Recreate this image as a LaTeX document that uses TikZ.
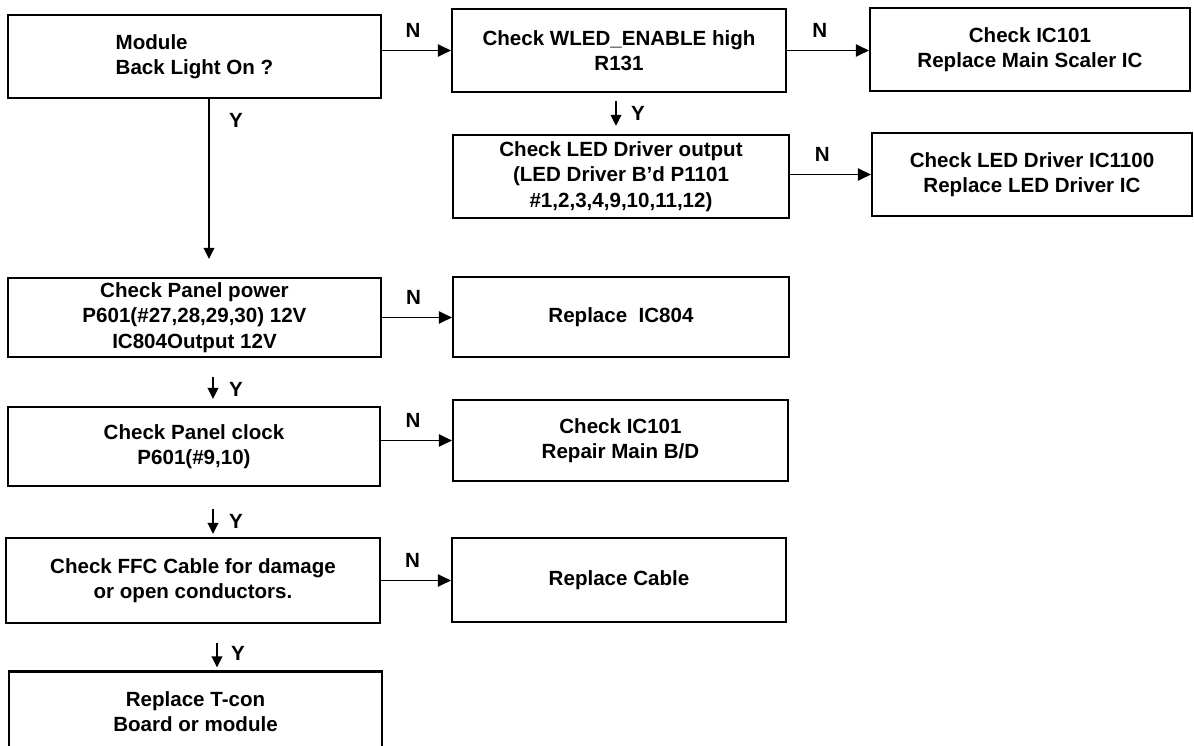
\documentclass[tikz,border=0pt]{standalone}
\usepackage{fontspec}
\setmainfont{Liberation Sans}
\usetikzlibrary{arrows.meta,positioning}

\begin{document}
\begin{tikzpicture}[
  x=0.02cm, y=-0.02cm,
  block/.style={rectangle, draw=black, line width=1.2pt, fill=white, minimum width=6.7cm, minimum height=1.64cm, align=center, inner sep=2pt, font=\fontsize{11.7}{14.4}\selectfont\bfseries},
  arrow/.style={-{Triangle[length=2.6mm, width=2.4mm]}, line width=1.1pt},
  yesarrow/.style={arrow, -{Triangle[length=2.2mm, width=2.1mm]}},
  lbl/.style={font=\fontsize{11.7}{14.4}\selectfont\bfseries, inner sep=1pt}
]
\clip (0,0) rectangle (1194,746);

% left column
\node[block, align=left, minimum width=7.46cm, minimum height=1.66cm] (module) at (194.5,56.5) {Module\\Back Light On ?};
\node[block, minimum width=7.46cm, minimum height=1.58cm] (power) at (194.5,317.5) {Check Panel power\\P601(\#27,28,29,30) 12V\\IC804Output 12V};
\node[block, minimum width=7.44cm, minimum height=1.58cm] (clock) at (194,446.5) {Check Panel clock\\P601(\#9,10)};
\node[block, minimum width=7.48cm, minimum height=1.7cm] (ffc) at (193,580.5) {Check FFC Cable for damage\\or open conductors.};
\node[block, minimum width=7.46cm, minimum height=1.62cm] (tcon) at (195.5,712) {Replace T-con\\Board or module};

% middle column
\node[block, minimum width=6.68cm, minimum height=1.66cm] (wled) at (619,50.5) {Check WLED\_ENABLE high\\R131};
\node[block, minimum width=6.72cm, minimum height=1.66cm] (ledout) at (621,176.5) {Check LED Driver output\\(LED Driver B’d P1101\\\#1,2,3,4,9,10,11,12)};
\node[block, minimum width=6.72cm, minimum height=1.6cm] (ic804) at (621,317) {Replace\ \ IC804};
\node[block, minimum width=6.7cm, minimum height=1.62cm] (repair) at (620.5,440.5) {Check IC101\\Repair Main B/D};
\node[block, minimum width=6.68cm, minimum height=1.68cm] (cable) at (619,580) {Replace Cable};

% right column
\node[block, minimum width=6.4cm, minimum height=1.66cm] (scaler) at (1030,49.5) {Check IC101\\Replace Main Scaler IC};
\node[block, minimum width=6.4cm, minimum height=1.66cm] (ledic) at (1032,174.5) {Check LED Driver IC1100\\Replace LED Driver IC};

% N branches
\draw[arrow] (module.east |- wled.west) -- node[lbl, above=0.2cm, pos=0.45] {N} (wled.west);
\draw[arrow] (wled.east) -- node[lbl, above=0.2cm, pos=0.4] {N} (wled.east -| scaler.west);
\draw[arrow] (ledout.east |- ledic.west) -- node[lbl, above=0.2cm, pos=0.4] {N} (ledic.west);
\draw[arrow] (power.east) -- node[lbl, above=0.2cm, pos=0.45] {N} (power.east -| ic804.west);
\draw[arrow] (clock.east |- repair.west) -- node[lbl, above=0.2cm, pos=0.45] {N} (repair.west);
\draw[arrow] (ffc.east) -- node[lbl, above=0.2cm, pos=0.45] {N} (ffc.east -| cable.west);

% Y branches
\draw[yesarrow, shorten >=0.36cm] ([xshift=0.29cm]module.south) -- node[lbl, right=0.35cm, pos=0.12] {Y} ([xshift=0.29cm]module.south |- power.north);
\draw[yesarrow, shorten <=0.16cm, shorten >=0.16cm] ([xshift=-0.06cm]wled.south) -- node[lbl, right=0.25cm] {Y} ([xshift=-0.06cm]wled.south |- ledout.north);
\draw[yesarrow, shorten <=0.38cm, shorten >=0.14cm] ([xshift=0.37cm]power.south) -- node[lbl, right=0.27cm, pos=0.65] {Y} ([xshift=0.37cm]power.south |- clock.north);
\draw[yesarrow, shorten <=0.44cm, shorten >=0.06cm] ([xshift=0.38cm]clock.south) -- node[lbl, right=0.27cm, pos=0.69] {Y} ([xshift=0.38cm]clock.south |- ffc.north);
\draw[yesarrow, shorten <=0.38cm, shorten >=0.06cm] ([xshift=0.48cm]ffc.south) -- node[lbl, right=0.23cm, pos=0.63] {Y} ([xshift=0.48cm]ffc.south |- tcon.north);
\end{tikzpicture}
\end{document}
